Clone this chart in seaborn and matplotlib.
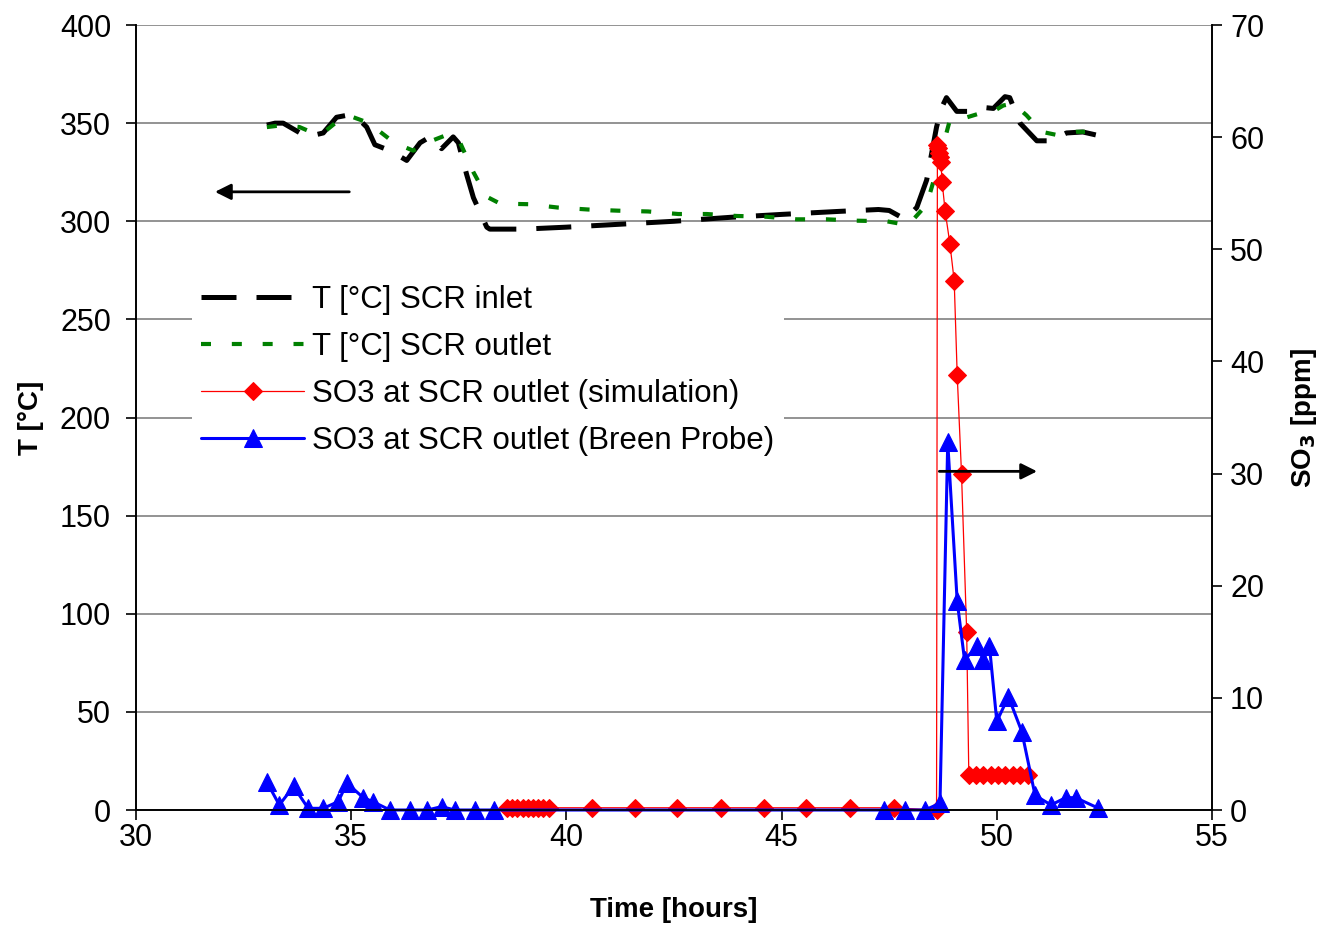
import pandas as pd
import numpy as np
import matplotlib
matplotlib.use('Agg')
import matplotlib.pyplot as plt
import seaborn as sns

# T at SCR inlet [hours, degC]
t_in = [33.04, 33.23, 33.42, 33.97, 34.35, 34.66, 34.90, 35.13, 35.36, 35.55, 35.90, 36.29,
        36.60, 36.83, 37.10, 37.37, 37.49, 37.68, 37.84, 38.15, 38.22, 39.0, 40.0, 41.25,
        42.5, 43.8, 45.0, 46.3, 47.25, 47.5, 47.87, 48.14, 48.37, 48.49, 48.60, 48.72,
        48.83, 49.07, 49.38, 49.69, 49.92, 50.19, 50.30, 50.54, 50.93, 51.24, 51.62, 52.0, 52.3]
T_in = [349, 350, 350, 343, 345, 353, 354, 353, 348, 339, 336, 331,
        340, 343, 337, 343, 340, 324, 312, 297, 296, 296, 297, 298.5,
        300, 302, 303.5, 305, 306, 305.5, 301, 307, 321, 335, 348, 358,
        363, 356, 356, 358, 357.5, 363.5, 363, 350, 341, 341, 345, 345.5, 344]

# T at SCR outlet
t_out = [33.04, 33.42, 33.80, 34.12, 34.43, 34.74, 35.05, 35.36, 35.59, 36.0, 36.44, 36.87,
         37.22, 37.49, 37.84, 38.15, 38.46, 39.12, 39.8, 40.5, 41.2, 41.9, 42.6, 43.26,
         43.96, 44.65, 45.35, 46.05, 46.74, 47.44, 47.94, 48.37, 48.56, 48.91, 49.22,
         49.61, 49.92, 50.15, 50.38, 50.69, 51.04, 51.39, 51.85, 52.05]
T_out = [348, 349, 348, 345, 346.5, 352, 353, 350.5, 347, 340, 336, 341,
         344, 342, 325, 312.5, 309, 308.7, 307, 306, 305.4, 305, 303.7, 303.7,
         302.7, 302.3, 301, 301, 300.3, 300, 298, 308.5, 322.7, 351.6, 352.4,
         355, 356, 359, 360, 354, 345.6, 344, 345.6, 345.6]

# SO3 simulation [ppm]
t_sim = [38.62, 38.74, 38.86, 38.98, 39.10, 39.22, 39.34, 39.46, 39.60, 40.59, 41.60, 42.58,
         43.60, 44.60, 45.57, 46.59, 47.60, 48.60, 48.62, 48.64, 48.66, 48.68, 48.70,
         48.73, 48.80, 48.91, 49.01, 49.08, 49.18, 49.30, 49.35, 49.52, 49.69, 49.86,
         50.03, 50.20, 50.37, 50.55, 50.72]
so3_sim = [0.2, 0.2, 0.2, 0.2, 0.2, 0.2, 0.2, 0.2, 0.2, 0.2, 0.2, 0.2,
           0.2, 0.2, 0.2, 0.2, 0.2, 0.0, 59.3, 59.0, 58.6, 58.2, 57.8,
           56.0, 53.4, 50.5, 47.2, 38.8, 30.0, 15.9, 3.1, 3.1, 3.1, 3.1,
           3.1, 3.1, 3.1, 3.1, 3.1]

# SO3 Breen probe [ppm]
t_probe = [33.04, 33.33, 33.66, 34.0, 34.35, 34.70, 34.90, 35.28, 35.50, 35.90, 36.37, 36.77,
           37.10, 37.41, 37.88, 38.32, 47.37, 47.87, 48.33, 48.68, 48.86, 49.08, 49.25,
           49.55, 49.69, 49.83, 50.0, 50.27, 50.58, 50.89, 51.26, 51.60, 51.83, 52.34]
so3_probe = [2.5, 0.45, 2.1, 0.15, 0.15, 0.75, 2.4, 1.1, 0.75, 0.0, 0.0, 0.0,
             0.3, 0.0, 0.0, 0.0, 0.0, 0.0, 0.0, 0.6, 32.8, 18.6, 13.4,
             14.6, 13.4, 14.6, 7.9, 10.1, 7.0, 1.3, 0.45, 1.1, 1.1, 0.2]

sns.set_style('white')
plt.rcParams['font.family'] = ['Liberation Sans', 'DejaVu Sans']
plt.rcParams['text.color'] = 'black'
plt.rcParams['axes.labelcolor'] = 'black'
plt.rcParams['xtick.color'] = 'black'
plt.rcParams['ytick.color'] = 'black'

fig = plt.figure(figsize=(13.23, 9.27), dpi=100)
ax = fig.add_axes([0.1028, 0.1262, 0.8133, 0.8468])
ax2 = ax.twinx()

df_in = pd.DataFrame({'t': t_in, 'T': T_in})
df_out = pd.DataFrame({'t': t_out, 'T': T_out})
df_sim = pd.DataFrame({'t': t_sim, 'so3': so3_sim})
df_probe = pd.DataFrame({'t': t_probe, 'so3': so3_probe})

sns.lineplot(data=df_in, x='t', y='T', ax=ax, color='black', lw=3.6, sort=False,
             estimator=None, label='T [°C] SCR inlet')
sns.lineplot(data=df_out, x='t', y='T', ax=ax, color='#008000', lw=3.0, sort=False,
             estimator=None, label='T [°C] SCR outlet')
ax.lines[0].set_dashes((7, 4))
ax.lines[1].set_dashes((2.4, 5))

sns.lineplot(data=df_sim, x='t', y='so3', ax=ax2, color='red', lw=0.9, sort=False,
             estimator=None, marker='D', markersize=9, markeredgecolor='red',
             label='SO3 at SCR outlet (simulation)', clip_on=False)
sns.lineplot(data=df_probe, x='t', y='so3', ax=ax2, color='blue', lw=2.2, sort=False,
             estimator=None, marker='^', markersize=12.5, markeredgecolor='blue',
             label='SO3 at SCR outlet (Breen Probe)', clip_on=False)

ax.set_xlim(30, 55)
ax.set_ylim(0, 400)
ax2.set_ylim(0, 70)
ax.set_xticks(np.arange(30, 56, 5))
ax.set_yticks(np.arange(0, 401, 50))
ax2.set_yticks(np.arange(0, 71, 10))

ax.yaxis.grid(True, color='#808080', lw=1.2)
ax.set_axisbelow(True)
for a in (ax, ax2):
    for s in a.spines.values():
        s.set_visible(False)
    for s in ('left', 'right', 'bottom'):
        a.spines[s].set_visible(True)
        a.spines[s].set_color('black')
        a.spines[s].set_linewidth(1.2)

ax.tick_params(axis='x', direction='out', length=7, width=1.2, labelsize=22,
               bottom=True, color='black', pad=2)
ax.tick_params(axis='y', direction='out', length=7, width=1.2, labelsize=22,
               left=True, color='black', pad=11)
ax2.tick_params(axis='y', direction='out', length=7, width=1.2, labelsize=22,
                right=True, color='black', pad=6)

ax.set_xlabel('Time [hours]', fontsize=20, fontweight='bold', labelpad=32)
ax.set_ylabel('T [°C]', fontsize=20, fontweight='bold', labelpad=11)
ax2.set_ylabel('SO$_\\mathbf{3}$ [ppm]', fontsize=20, fontweight='bold', labelpad=18)

# arrows pointing to the matching axis
ax.annotate('', xy=(31.77, 315), xytext=(35.02, 315),
            arrowprops=dict(arrowstyle='-|>', color='black', lw=2, mutation_scale=24))
ax2.annotate('', xy=(51.0, 30.2), xytext=(48.6, 30.2),
             arrowprops=dict(arrowstyle='-|>', color='black', lw=2, mutation_scale=24))

h1, l1 = ax.get_legend_handles_labels()
h2, l2 = ax2.get_legend_handles_labels()
ax.get_legend().remove()
ax2.get_legend().remove()
leg = ax2.legend(h1 + h2, l1 + l2, loc='upper left', bbox_to_anchor=(0.052, 0.681),
                 fontsize=22.5, handlelength=3.3, handletextpad=0.25, labelspacing=0.55,
                 frameon=True, facecolor='white', edgecolor='none', framealpha=1,
                 borderpad=0.3, borderaxespad=0)

fig.savefig('out.png', dpi=100)
